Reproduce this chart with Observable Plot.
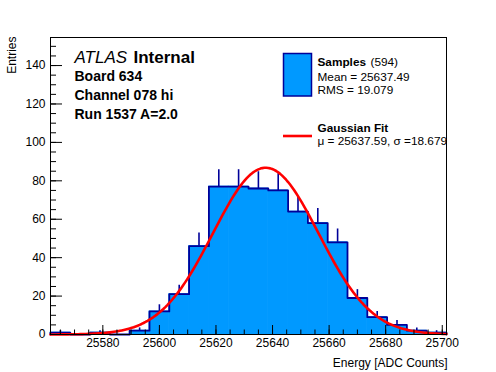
<!DOCTYPE html>
<html><head><meta charset="utf-8">
<script src="https://cdn.jsdelivr.net/npm/d3@7"></script>
<script src="https://cdn.jsdelivr.net/npm/@observablehq/plot@0.6"></script>
<style>
body{margin:0;background:#fff;}
#chart svg{display:block;}
</style></head><body><div id="chart"></div>
<script>
// ---- data ----
const binLow = 25561.5;
const binWidth = 7;
const counts = [1,0,1,0,2,12,21,46,77,77,76,75,64,58,48,19,9,5,2,1];
const fitMu = 25637.59;
const fitSigma = 18.679;
const fitConst = 86.8;
const xTickLabels = [25580,25600,25620,25640,25660,25680,25700];
const yTickLabels = [0,20,40,60,80,100,120,140];
const nEntries = 594;
const meanText = "25637.49";
const rmsText = "19.079";
const infoLines = ["Board 634","Channel 078 hi","Run 1537 A=2.0"];

// ---- derived tables ----
const xMin = binLow, xMax = binLow + binWidth * counts.length;
const yMax = 154.6;
const bins = counts.map((n, i) => ({x1: binLow + i*binWidth, x2: binLow + (i+1)*binWidth, xc: binLow + (i+0.5)*binWidth, n}));
const outline = [{x: xMin, y: 0}, ...bins.map(b => ({x: b.x1, y: b.n})), {x: xMax, y: counts[counts.length-1]}, {x: xMax, y: 0}];
const fitCurve = d3.range(0, 201).map(i => {
  const x = xMin + i*(xMax - xMin)/200;
  return {x, y: fitConst*Math.exp(-0.5*((x-fitMu)/fitSigma)**2)};
});
const yMinor = d3.range(0, 155, 5);
const xMinor = d3.range(25565, 25701, 5);

const FONT = "'Liberation Sans', Arial, Helvetica, sans-serif";
const fillC = "#0099ff", lineC = "#000099";
const W = 496, H = 372, mL = 50, mR = 50, mT = 37, mB = 38;
const innerW = W - mL - mR, innerH = H - mT - mB;

const txt = (s, dx, dy, o = {}) => Plot.text([s], {text: d => d, frameAnchor: "top-left", dx, dy, textAnchor: "start", lineAnchor: "middle", fill: "black", fontSize: 11.8, ...o});

const chart = Plot.plot({
  width: W, height: H,
  marginLeft: mL, marginRight: mR, marginTop: mT, marginBottom: mB,
  style: {fontFamily: FONT, background: "white"},
  x: {domain: [xMin, xMax]},
  y: {domain: [0, yMax]},
  marks: [
    Plot.rectY(bins, {x1: "x1", x2: "x2", y1: 0, y2: "n", fill: fillC, stroke: fillC, strokeWidth: 0.8, inset: 0}),
    Plot.ruleX(bins.filter(b => b.n > 0), {x: "xc", y1: "n", y2: b => b.n + Math.sqrt(b.n), stroke: lineC, strokeWidth: 1.6}),
    Plot.line(outline, {x: "x", y: "y", curve: "step-after", stroke: lineC, strokeWidth: 1.8}),
    Plot.line(fitCurve, {x: "x", y: "y", stroke: "#ff0000", strokeWidth: 2.6}),
    // ticks (inward, ROOT style)
    Plot.tickY(yMinor, {y: d => d, stroke: "black", insetRight: innerW - 6}),
    Plot.tickY(yTickLabels, {y: d => d, stroke: "black", insetRight: innerW - 12}),
    Plot.tickX(xMinor, {x: d => d, stroke: "black", insetTop: innerH - 4.5}),
    Plot.tickX(xTickLabels, {x: d => d, stroke: "black", insetTop: innerH - 9}),
    Plot.axisY(yTickLabels, {tickSize: 0, tickPadding: 5, label: null, fontSize: 12, tickFormat: d3.format("d")}),
    Plot.axisX(xTickLabels, {tickSize: 0, tickPadding: 4, label: null, fontSize: 12, tickFormat: d3.format("d")}),
    Plot.frame({stroke: "black", strokeWidth: 1}),
    // axis titles
    Plot.text(["Entries"], {text: d => d, frameAnchor: "top-left", dx: 12 - mL, dy: -1, rotate: -90, textAnchor: "end", lineAnchor: "middle", fontSize: 12, fill: "black"}),
    Plot.text(["Energy [ADC Counts]"], {text: d => d, frameAnchor: "bottom-right", dx: 1, dy: 28.7, textAnchor: "end", lineAnchor: "middle", fontSize: 12, fill: "black"}),
    // ATLAS label
    txt("ATLAS", 24, 19.7, {fontSize: 17, fontStyle: "italic"}),
    txt("Internal", 83, 19.7, {fontSize: 17, fontWeight: "bold"}),
    txt(infoLines[0], 24, 39, {fontSize: 14, fontWeight: "bold"}),
    txt(infoLines[1], 24, 58, {fontSize: 14, fontWeight: "bold"}),
    txt(infoLines[2], 24, 77, {fontSize: 14, fontWeight: "bold"}),
    // legend texts
    txt("Samples", 267, 24.7, {fontWeight: "bold"}),
    txt(`(${nEntries})`, 320, 24.7),
    txt(`Mean = ${meanText}`, 267, 39.7),
    txt(`RMS = ${rmsText}`, 267, 52.5),
    txt("Gaussian Fit", 267, 91.2, {fontWeight: "bold"}),
    txt(`\u03bc = ${fitMu.toFixed(2)}, \u03c3 =${fitSigma.toFixed(3)}`, 267, 104)
  ]
});

// legend swatches
const svg = d3.select(chart);
svg.append("rect").attr("x", 283.5).attr("y", 53.5).attr("width", 28).attr("height", 42.5)
  .attr("fill", fillC).attr("stroke", lineC).attr("stroke-width", 1.5);
svg.append("line").attr("x1", 283).attr("x2", 312).attr("y1", 136).attr("y2", 136)
  .attr("stroke", "#ff0000").attr("stroke-width", 2.6);

document.getElementById("chart").appendChild(chart);
</script>
</body></html>
